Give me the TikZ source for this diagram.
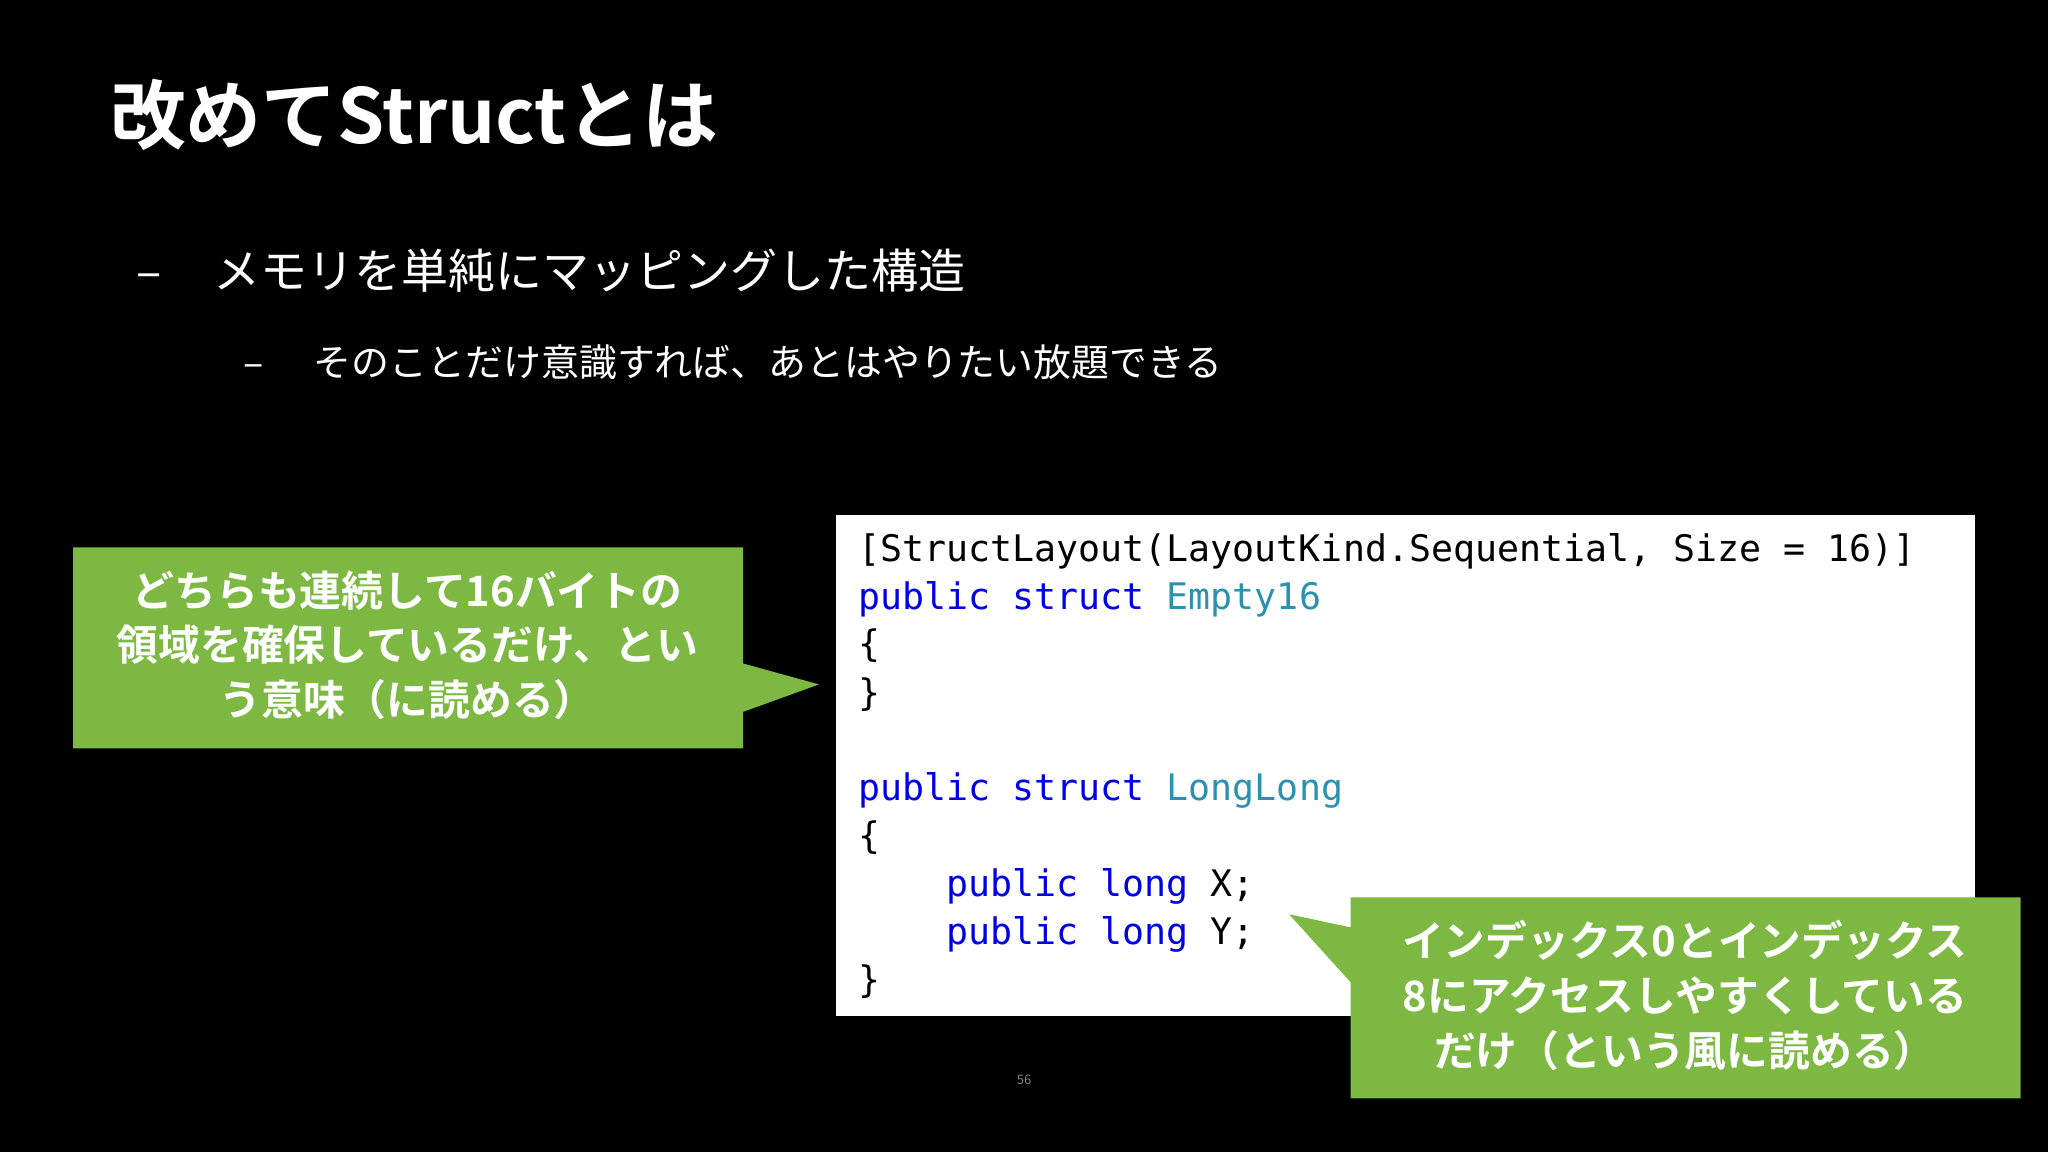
\documentclass[tikz,border=0pt]{standalone}
\usepackage{fontspec}
\setmainfont{Noto Sans CJK JP}
\newfontfamily\cjk{Noto Sans CJK JP}
\newfontfamily\cjkb{Noto Sans CJK JP Bold}
\newfontfamily\codef{DejaVu Sans Mono}
\definecolor{callg}{RGB}{125,185,66}
\definecolor{kw}{RGB}{0,0,230}
\definecolor{ty}{RGB}{43,145,175}
\tikzset{
  code/.style={anchor=base west,inner sep=0,font=\codef\fontsize{14}{14}\selectfont,text=black},
  calltext/.style={align=center,text=white,font=\cjkb\fontsize{16}{21}\selectfont},
  callbox/.style={fill=callg},
}
\begin{document}
\begin{tikzpicture}[x=0.5pt,y=-0.5pt]
\fill[black] (0,0) rectangle (1568,882);
\useasboundingbox (0,0) rectangle (1568,882);
\node[anchor=base west,inner sep=0,text=white,font=\cjkb\fontsize{29}{29}\selectfont] (title) at (84,110) {改めてStructとは};
\node[anchor=base west,inner sep=0,text=white,font=\cjk\fontsize{18}{18}\selectfont] (d1) at (104,221) {–};
\node[anchor=base west,inner sep=0,text=white,font=\cjk\fontsize{18}{18}\selectfont] (b1) at (163,221) {メモリを単純にマッピングした構造};
\node[anchor=base west,inner sep=0,text=white,font=\cjk\fontsize{14.5}{14.5}\selectfont] (d2) at (186,288) {–};
\node[anchor=base west,inner sep=0,text=white,font=\cjk\fontsize{14.5}{14.5}\selectfont] (b2) at (240,288) {そのことだけ意識すれば、あとはやりたい放題できる};
\fill[white] (640,394) rectangle (1512,778);
\node[code] (c1) at (657,430) {[StructLayout(LayoutKind.Sequential, Size = 16)]};
\node[code] (c2) at (657,467) {\textcolor{kw}{public struct} \textcolor{ty}{Empty16}};
\node[code] (c3) at (657,503) {\{};
\node[code] (c4) at (657,540) {\}};
\node[code] (c5) at (657,613) {\textcolor{kw}{public struct} \textcolor{ty}{LongLong}};
\node[code] (c6) at (657,650) {\{};
\node[code] (c7) at (724,686) {\textcolor{kw}{public long} X;};
\node[code] (c8) at (724,723) {\textcolor{kw}{public long} Y;};
\node[code] (c9) at (657,760) {\}};
\fill[callbox] (56,419) -- (569,419) -- (569,508) -- (627,524) -- (569,545) -- (569,573) -- (56,573) -- cycle;
\node[calltext] (l1) at (312,494) {どちらも連続して16バイトの\\領域を確保しているだけ、とい\\う意味（に読める）};
\fill[callbox] (1034,687) -- (1547,687) -- (1547,841) -- (1034,841) -- (1034,752) -- (987,700) -- (1034,710) -- cycle;
\node[calltext] (r1) at (1290,762) {インデックス0とインデックス\\8にアクセスしやすくしている\\だけ（という風に読める）};
\node[text=gray,font=\cjk\fontsize{5}{5}\selectfont] (pg) at (784,827) {56};
\end{tikzpicture}
\end{document}
